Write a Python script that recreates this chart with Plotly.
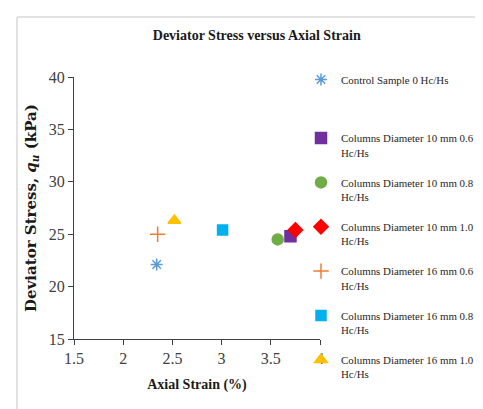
import plotly.graph_objects as go

series_names = [
    "Control Sample 0 Hc/Hs<br> <br> ",
    "Columns Diameter 10 mm 0.6<br>Hc/Hs",
    "Columns Diameter 10 mm 0.8<br>Hc/Hs",
    "Columns Diameter 10 mm 1.0<br>Hc/Hs",
    "Columns Diameter 16 mm 0.6<br>Hc/Hs",
    "Columns Diameter 16 mm 0.8<br>Hc/Hs",
    "Columns Diameter 16 mm 1.0<br>Hc/Hs",
]
axial_strain = [2.34, 3.70, 3.57, 3.75, 2.35, 3.01, 2.52]
deviator_stress = [22.1, 24.8, 24.5, 25.4, 25.0, 25.4, 26.3]

colors = ["#5B9BD5", "#7030A0", "#70AD47", "#FF0000", "#ED7D31", "#00B0F0", "#FFC000"]
symbols = ["asterisk-open", "square", "circle", "diamond", "cross-thin-open", "square", "triangle-up"]
sizes = [10, 11, 11, 11, 11, 10, 11]

FONT = "Liberation Serif"

fig = go.Figure()
for i, name in enumerate(series_names):
    fig.add_trace(go.Scatter(
        x=[axial_strain[i]], y=[deviator_stress[i]], mode="markers", name=name,
        legendgroup=str(i),
        marker=dict(symbol=symbols[i], size=sizes[i], color=colors[i],
                    line=dict(color=colors[i], width=1.5)),
    ))

fig.update_layout(
    width=483, height=409,
    margin=dict(l=66, r=171, t=69, b=78, autoexpand=False),
    paper_bgcolor="white", plot_bgcolor="white",
    font=dict(family=FONT, size=14, color="#262626"),
    title=dict(text="<b>Deviator Stress versus Axial Strain</b>", x=0.515, xref="container",
               xanchor="center", y=1 - 27/409, yref="container", yanchor="middle",
               font=dict(family=FONT, size=14, color="#1a1a1a")),
    showlegend=True,
    legend=dict(x=(293-66)/246, y=(331-58)/262, xanchor="left", yanchor="top", valign="top",
                maxheight=400,
                font=dict(family=FONT, size=10.9, color="#262626"),
                tracegroupgap=13, itemwidth=30, bgcolor="rgba(0,0,0,0)"),
    xaxis=dict(range=[1.5, 4], tickvals=[1.5, 2, 2.5, 3, 3.5, 4],
               ticktext=["1.5", "2", "2.5", "3", "3.5", "4"],
               showgrid=False, zeroline=False, showline=True, linecolor="#404040", linewidth=1,
               ticks="outside", ticklen=5, tickcolor="#404040",
               tickfont=dict(family=FONT, size=16, color="#404040"),
               title=dict(text="<b>Axial Strain (%)</b>", standoff=12,
                          font=dict(family=FONT, size=14, color="#1a1a1a"))),
    yaxis=dict(range=[15, 40], dtick=5, showgrid=False, zeroline=False,
               showline=True, linecolor="#404040", linewidth=1,
               ticks="outside", ticklen=5, tickcolor="#404040",
               tickfont=dict(family=FONT, size=16, color="#404040"),
               title=dict(text="<b>Deviator Stress, <i>q<sub>u</sub></i> (kPa)</b>", standoff=8,
                          font=dict(family="DejaVu Serif", size=15, color="#1a1a1a"))),
    shapes=[
        dict(type="line", xref="paper", yref="paper", x0=(9-66)/246, x1=(483-66)/246,
             y0=(331-9)/262, y1=(331-9)/262, line=dict(color="#d9d9d9", width=1.5)),
        dict(type="line", xref="paper", yref="paper", x0=(9-66)/246, x1=(9-66)/246,
             y0=(331-9)/262, y1=(331-409)/262, line=dict(color="#d9d9d9", width=1.5)),
    ],
)

fig.write_html("out.html")
